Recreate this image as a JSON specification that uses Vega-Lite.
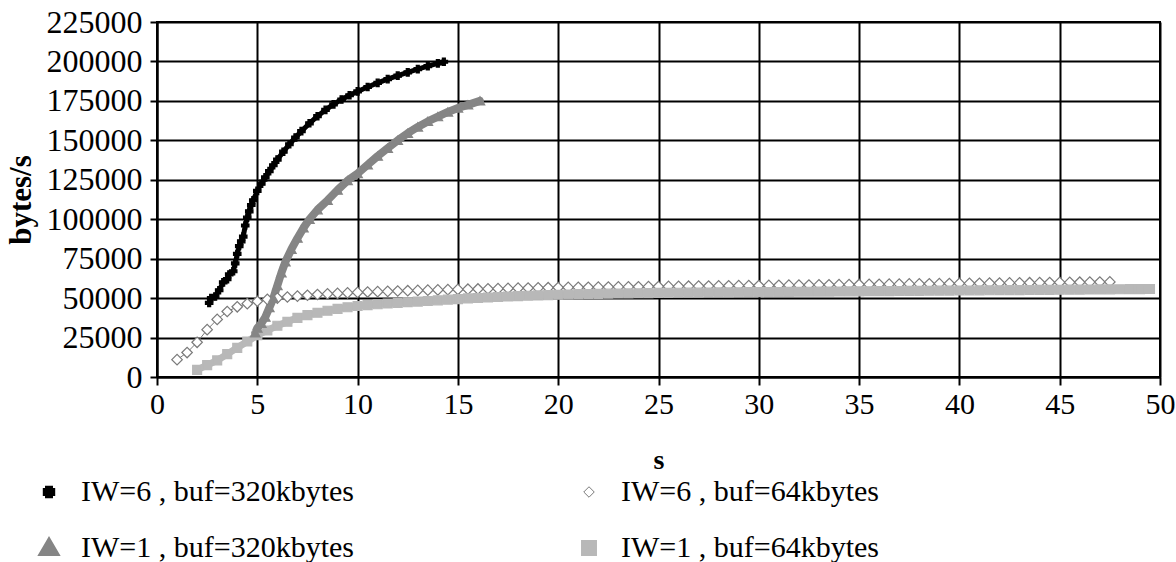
{
"$schema": "https://vega.github.io/schema/vega-lite/v6.json",
"width": 1003, "height": 355,
"autosize": {"type": "none"},
"padding": {"left": 157, "top": 22, "right": 16, "bottom": 185},
"background": "white",
"config": {"font": "Liberation Serif", "view": {"stroke": "black", "strokeWidth": 2},
  "legend": {"orient": "none", "legendX": -123, "legendY": 455, "columns": 2, "columnPadding": 216, "rowPadding": 20, "padding": 0,
    "labelFont": "Liberation Serif", "labelFontSize": 30, "labelColor": "black", "labelOffset": 17, "labelLimit": 0, "symbolSize": 1600, "symbolType": "stroke", "symbolStrokeWidth": 2.5}},
"data": {"values": [
{"series":"IW=6 , buf=64kbytes","s":1.0,"bps":11000},{"series":"IW=6 , buf=64kbytes","s":1.5,"bps":15500},{"series":"IW=6 , buf=64kbytes","s":2.0,"bps":22000},{"series":"IW=6 , buf=64kbytes","s":2.5,"bps":30000},{"series":"IW=6 , buf=64kbytes","s":3.0,"bps":36500},{"series":"IW=6 , buf=64kbytes","s":3.5,"bps":41500},{"series":"IW=6 , buf=64kbytes","s":4.0,"bps":44500},{"series":"IW=6 , buf=64kbytes","s":4.5,"bps":46500},{"series":"IW=6 , buf=64kbytes","s":5.0,"bps":48000},{"series":"IW=6 , buf=64kbytes","s":5.5,"bps":49200},{"series":"IW=6 , buf=64kbytes","s":6.0,"bps":50000},{"series":"IW=6 , buf=64kbytes","s":6.5,"bps":50700},{"series":"IW=6 , buf=64kbytes","s":7.0,"bps":51300},{"series":"IW=6 , buf=64kbytes","s":7.5,"bps":51800},{"series":"IW=6 , buf=64kbytes","s":8.0,"bps":52300},{"series":"IW=6 , buf=64kbytes","s":8.5,"bps":52700},{"series":"IW=6 , buf=64kbytes","s":9.0,"bps":53000},{"series":"IW=6 , buf=64kbytes","s":9.5,"bps":53300},{"series":"IW=6 , buf=64kbytes","s":10.0,"bps":53600},{"series":"IW=6 , buf=64kbytes","s":10.5,"bps":53850},{"series":"IW=6 , buf=64kbytes","s":11.0,"bps":54100},{"series":"IW=6 , buf=64kbytes","s":11.5,"bps":54300},{"series":"IW=6 , buf=64kbytes","s":12.0,"bps":54500},{"series":"IW=6 , buf=64kbytes","s":12.5,"bps":54700},{"series":"IW=6 , buf=64kbytes","s":13.0,"bps":54900},{"series":"IW=6 , buf=64kbytes","s":13.5,"bps":55050},{"series":"IW=6 , buf=64kbytes","s":14.0,"bps":55200},{"series":"IW=6 , buf=64kbytes","s":14.5,"bps":55350},{"series":"IW=6 , buf=64kbytes","s":15.0,"bps":55500},{"series":"IW=6 , buf=64kbytes","s":15.5,"bps":55650},{"series":"IW=6 , buf=64kbytes","s":16.0,"bps":55800},{"series":"IW=6 , buf=64kbytes","s":16.5,"bps":55900},{"series":"IW=6 , buf=64kbytes","s":17.0,"bps":56000},{"series":"IW=6 , buf=64kbytes","s":17.5,"bps":56150},{"series":"IW=6 , buf=64kbytes","s":18.0,"bps":56300},{"series":"IW=6 , buf=64kbytes","s":18.5,"bps":56400},{"series":"IW=6 , buf=64kbytes","s":19.0,"bps":56500},{"series":"IW=6 , buf=64kbytes","s":19.5,"bps":56600},{"series":"IW=6 , buf=64kbytes","s":20.0,"bps":56700},{"series":"IW=6 , buf=64kbytes","s":20.5,"bps":56770},{"series":"IW=6 , buf=64kbytes","s":21.0,"bps":56830},{"series":"IW=6 , buf=64kbytes","s":21.5,"bps":56900},{"series":"IW=6 , buf=64kbytes","s":22.0,"bps":56960},{"series":"IW=6 , buf=64kbytes","s":22.5,"bps":57030},{"series":"IW=6 , buf=64kbytes","s":23.0,"bps":57090},{"series":"IW=6 , buf=64kbytes","s":23.5,"bps":57160},{"series":"IW=6 , buf=64kbytes","s":24.0,"bps":57220},{"series":"IW=6 , buf=64kbytes","s":24.5,"bps":57290},{"series":"IW=6 , buf=64kbytes","s":25.0,"bps":57350},{"series":"IW=6 , buf=64kbytes","s":25.5,"bps":57420},{"series":"IW=6 , buf=64kbytes","s":26.0,"bps":57480},{"series":"IW=6 , buf=64kbytes","s":26.5,"bps":57550},{"series":"IW=6 , buf=64kbytes","s":27.0,"bps":57610},{"series":"IW=6 , buf=64kbytes","s":27.5,"bps":57680},{"series":"IW=6 , buf=64kbytes","s":28.0,"bps":57740},{"series":"IW=6 , buf=64kbytes","s":28.5,"bps":57810},{"series":"IW=6 , buf=64kbytes","s":29.0,"bps":57870},{"series":"IW=6 , buf=64kbytes","s":29.5,"bps":57940},{"series":"IW=6 , buf=64kbytes","s":30.0,"bps":58000},{"series":"IW=6 , buf=64kbytes","s":30.5,"bps":58070},{"series":"IW=6 , buf=64kbytes","s":31.0,"bps":58130},{"series":"IW=6 , buf=64kbytes","s":31.5,"bps":58200},{"series":"IW=6 , buf=64kbytes","s":32.0,"bps":58260},{"series":"IW=6 , buf=64kbytes","s":32.5,"bps":58330},{"series":"IW=6 , buf=64kbytes","s":33.0,"bps":58390},{"series":"IW=6 , buf=64kbytes","s":33.5,"bps":58460},{"series":"IW=6 , buf=64kbytes","s":34.0,"bps":58520},{"series":"IW=6 , buf=64kbytes","s":34.5,"bps":58590},{"series":"IW=6 , buf=64kbytes","s":35.0,"bps":58650},{"series":"IW=6 , buf=64kbytes","s":35.5,"bps":58720},{"series":"IW=6 , buf=64kbytes","s":36.0,"bps":58780},{"series":"IW=6 , buf=64kbytes","s":36.5,"bps":58850},{"series":"IW=6 , buf=64kbytes","s":37.0,"bps":58910},{"series":"IW=6 , buf=64kbytes","s":37.5,"bps":58980},{"series":"IW=6 , buf=64kbytes","s":38.0,"bps":59040},{"series":"IW=6 , buf=64kbytes","s":38.5,"bps":59110},{"series":"IW=6 , buf=64kbytes","s":39.0,"bps":59170},{"series":"IW=6 , buf=64kbytes","s":39.5,"bps":59240},{"series":"IW=6 , buf=64kbytes","s":40.0,"bps":59300},{"series":"IW=6 , buf=64kbytes","s":40.5,"bps":59370},{"series":"IW=6 , buf=64kbytes","s":41.0,"bps":59430},{"series":"IW=6 , buf=64kbytes","s":41.5,"bps":59500},{"series":"IW=6 , buf=64kbytes","s":42.0,"bps":59560},{"series":"IW=6 , buf=64kbytes","s":42.5,"bps":59630},{"series":"IW=6 , buf=64kbytes","s":43.0,"bps":59690},{"series":"IW=6 , buf=64kbytes","s":43.5,"bps":59760},{"series":"IW=6 , buf=64kbytes","s":44.0,"bps":59820},{"series":"IW=6 , buf=64kbytes","s":44.5,"bps":59890},{"series":"IW=6 , buf=64kbytes","s":45.0,"bps":59950},{"series":"IW=6 , buf=64kbytes","s":45.5,"bps":60020},{"series":"IW=6 , buf=64kbytes","s":46.0,"bps":60080},{"series":"IW=6 , buf=64kbytes","s":46.5,"bps":60150},{"series":"IW=6 , buf=64kbytes","s":47.0,"bps":60210},{"series":"IW=6 , buf=64kbytes","s":47.5,"bps":60280},
{"series":"IW=1 , buf=64kbytes","s":2.0,"bps":4500},{"series":"IW=1 , buf=64kbytes","s":2.5,"bps":7500},{"series":"IW=1 , buf=64kbytes","s":3.0,"bps":10500},{"series":"IW=1 , buf=64kbytes","s":3.5,"bps":14500},{"series":"IW=1 , buf=64kbytes","s":4.0,"bps":18500},{"series":"IW=1 , buf=64kbytes","s":4.5,"bps":22500},{"series":"IW=1 , buf=64kbytes","s":5.0,"bps":26500},{"series":"IW=1 , buf=64kbytes","s":5.5,"bps":29500},{"series":"IW=1 , buf=64kbytes","s":6.0,"bps":32500},{"series":"IW=1 , buf=64kbytes","s":6.5,"bps":35000},{"series":"IW=1 , buf=64kbytes","s":7.0,"bps":37500},{"series":"IW=1 , buf=64kbytes","s":7.5,"bps":39200},{"series":"IW=1 , buf=64kbytes","s":8.0,"bps":40700},{"series":"IW=1 , buf=64kbytes","s":8.5,"bps":42000},{"series":"IW=1 , buf=64kbytes","s":9.0,"bps":43200},{"series":"IW=1 , buf=64kbytes","s":9.5,"bps":44200},{"series":"IW=1 , buf=64kbytes","s":10.0,"bps":45000},{"series":"IW=1 , buf=64kbytes","s":10.5,"bps":45600},{"series":"IW=1 , buf=64kbytes","s":11.0,"bps":46100},{"series":"IW=1 , buf=64kbytes","s":11.5,"bps":46600},{"series":"IW=1 , buf=64kbytes","s":12.0,"bps":47000},{"series":"IW=1 , buf=64kbytes","s":12.5,"bps":47400},{"series":"IW=1 , buf=64kbytes","s":13.0,"bps":47800},{"series":"IW=1 , buf=64kbytes","s":13.5,"bps":48200},{"series":"IW=1 , buf=64kbytes","s":14.0,"bps":48600},{"series":"IW=1 , buf=64kbytes","s":14.5,"bps":49000},{"series":"IW=1 , buf=64kbytes","s":15.0,"bps":49400},{"series":"IW=1 , buf=64kbytes","s":15.5,"bps":49800},{"series":"IW=1 , buf=64kbytes","s":16.0,"bps":50100},{"series":"IW=1 , buf=64kbytes","s":16.5,"bps":50400},{"series":"IW=1 , buf=64kbytes","s":17.0,"bps":50700},{"series":"IW=1 , buf=64kbytes","s":17.5,"bps":51000},{"series":"IW=1 , buf=64kbytes","s":18.0,"bps":51300},{"series":"IW=1 , buf=64kbytes","s":18.5,"bps":51500},{"series":"IW=1 , buf=64kbytes","s":19.0,"bps":51700},{"series":"IW=1 , buf=64kbytes","s":19.5,"bps":51900},{"series":"IW=1 , buf=64kbytes","s":20.0,"bps":52100},{"series":"IW=1 , buf=64kbytes","s":20.5,"bps":52300},{"series":"IW=1 , buf=64kbytes","s":21.0,"bps":52500},{"series":"IW=1 , buf=64kbytes","s":21.5,"bps":52600},{"series":"IW=1 , buf=64kbytes","s":22.0,"bps":52700},{"series":"IW=1 , buf=64kbytes","s":22.5,"bps":52800},{"series":"IW=1 , buf=64kbytes","s":23.0,"bps":52900},{"series":"IW=1 , buf=64kbytes","s":23.5,"bps":53000},{"series":"IW=1 , buf=64kbytes","s":24.0,"bps":53100},{"series":"IW=1 , buf=64kbytes","s":24.5,"bps":53200},{"series":"IW=1 , buf=64kbytes","s":25.0,"bps":53300},{"series":"IW=1 , buf=64kbytes","s":25.5,"bps":53350},{"series":"IW=1 , buf=64kbytes","s":26.0,"bps":53400},{"series":"IW=1 , buf=64kbytes","s":26.5,"bps":53450},{"series":"IW=1 , buf=64kbytes","s":27.0,"bps":53500},{"series":"IW=1 , buf=64kbytes","s":27.5,"bps":53550},{"series":"IW=1 , buf=64kbytes","s":28.0,"bps":53600},{"series":"IW=1 , buf=64kbytes","s":28.5,"bps":53650},{"series":"IW=1 , buf=64kbytes","s":29.0,"bps":53700},{"series":"IW=1 , buf=64kbytes","s":29.5,"bps":53750},{"series":"IW=1 , buf=64kbytes","s":30.0,"bps":53800},{"series":"IW=1 , buf=64kbytes","s":30.5,"bps":53850},{"series":"IW=1 , buf=64kbytes","s":31.0,"bps":53900},{"series":"IW=1 , buf=64kbytes","s":31.5,"bps":53950},{"series":"IW=1 , buf=64kbytes","s":32.0,"bps":54000},{"series":"IW=1 , buf=64kbytes","s":32.5,"bps":54050},{"series":"IW=1 , buf=64kbytes","s":33.0,"bps":54100},{"series":"IW=1 , buf=64kbytes","s":33.5,"bps":54150},{"series":"IW=1 , buf=64kbytes","s":34.0,"bps":54200},{"series":"IW=1 , buf=64kbytes","s":34.5,"bps":54250},{"series":"IW=1 , buf=64kbytes","s":35.0,"bps":54300},{"series":"IW=1 , buf=64kbytes","s":35.5,"bps":54350},{"series":"IW=1 , buf=64kbytes","s":36.0,"bps":54400},{"series":"IW=1 , buf=64kbytes","s":36.5,"bps":54450},{"series":"IW=1 , buf=64kbytes","s":37.0,"bps":54500},{"series":"IW=1 , buf=64kbytes","s":37.5,"bps":54550},{"series":"IW=1 , buf=64kbytes","s":38.0,"bps":54600},{"series":"IW=1 , buf=64kbytes","s":38.5,"bps":54650},{"series":"IW=1 , buf=64kbytes","s":39.0,"bps":54700},{"series":"IW=1 , buf=64kbytes","s":39.5,"bps":54750},{"series":"IW=1 , buf=64kbytes","s":40.0,"bps":54800},{"series":"IW=1 , buf=64kbytes","s":40.5,"bps":54850},{"series":"IW=1 , buf=64kbytes","s":41.0,"bps":54900},{"series":"IW=1 , buf=64kbytes","s":41.5,"bps":54950},{"series":"IW=1 , buf=64kbytes","s":42.0,"bps":55000},{"series":"IW=1 , buf=64kbytes","s":42.5,"bps":55050},{"series":"IW=1 , buf=64kbytes","s":43.0,"bps":55100},{"series":"IW=1 , buf=64kbytes","s":43.5,"bps":55150},{"series":"IW=1 , buf=64kbytes","s":44.0,"bps":55200},{"series":"IW=1 , buf=64kbytes","s":44.5,"bps":55250},{"series":"IW=1 , buf=64kbytes","s":45.0,"bps":55300},{"series":"IW=1 , buf=64kbytes","s":45.5,"bps":55350},{"series":"IW=1 , buf=64kbytes","s":46.0,"bps":55400},{"series":"IW=1 , buf=64kbytes","s":46.5,"bps":55450},{"series":"IW=1 , buf=64kbytes","s":47.0,"bps":55500},{"series":"IW=1 , buf=64kbytes","s":47.5,"bps":55550},{"series":"IW=1 , buf=64kbytes","s":48.0,"bps":55600},{"series":"IW=1 , buf=64kbytes","s":48.5,"bps":55650},{"series":"IW=1 , buf=64kbytes","s":49.0,"bps":55700},{"series":"IW=1 , buf=64kbytes","s":49.5,"bps":55750},
{"series":"IW=6 , buf=320kbytes","s":2.6,"bps":47000},{"series":"IW=6 , buf=320kbytes","s":2.7,"bps":50000},{"series":"IW=6 , buf=320kbytes","s":2.9,"bps":51000},{"series":"IW=6 , buf=320kbytes","s":3.1,"bps":55000},{"series":"IW=6 , buf=320kbytes","s":3.3,"bps":60000},{"series":"IW=6 , buf=320kbytes","s":3.5,"bps":62000},{"series":"IW=6 , buf=320kbytes","s":3.6,"bps":65000},{"series":"IW=6 , buf=320kbytes","s":3.8,"bps":67000},{"series":"IW=6 , buf=320kbytes","s":3.9,"bps":72000},{"series":"IW=6 , buf=320kbytes","s":4.0,"bps":78000},{"series":"IW=6 , buf=320kbytes","s":4.1,"bps":83000},{"series":"IW=6 , buf=320kbytes","s":4.2,"bps":86000},{"series":"IW=6 , buf=320kbytes","s":4.3,"bps":89000},{"series":"IW=6 , buf=320kbytes","s":4.4,"bps":96000},{"series":"IW=6 , buf=320kbytes","s":4.5,"bps":101000},{"series":"IW=6 , buf=320kbytes","s":4.6,"bps":105000},{"series":"IW=6 , buf=320kbytes","s":4.7,"bps":109000},{"series":"IW=6 , buf=320kbytes","s":4.8,"bps":112000},{"series":"IW=6 , buf=320kbytes","s":5.0,"bps":118000},{"series":"IW=6 , buf=320kbytes","s":5.2,"bps":122500},{"series":"IW=6 , buf=320kbytes","s":5.4,"bps":126500},{"series":"IW=6 , buf=320kbytes","s":5.6,"bps":130500},{"series":"IW=6 , buf=320kbytes","s":5.8,"bps":134200},{"series":"IW=6 , buf=320kbytes","s":6.0,"bps":137800},{"series":"IW=6 , buf=320kbytes","s":6.3,"bps":142800},{"series":"IW=6 , buf=320kbytes","s":6.6,"bps":147500},{"series":"IW=6 , buf=320kbytes","s":6.9,"bps":151800},{"series":"IW=6 , buf=320kbytes","s":7.2,"bps":155800},{"series":"IW=6 , buf=320kbytes","s":7.6,"bps":160800},{"series":"IW=6 , buf=320kbytes","s":8.0,"bps":165300},{"series":"IW=6 , buf=320kbytes","s":8.4,"bps":169300},{"series":"IW=6 , buf=320kbytes","s":8.8,"bps":172800},{"series":"IW=6 , buf=320kbytes","s":9.2,"bps":175900},{"series":"IW=6 , buf=320kbytes","s":9.6,"bps":178600},{"series":"IW=6 , buf=320kbytes","s":10.0,"bps":181000},{"series":"IW=6 , buf=320kbytes","s":10.5,"bps":183800},{"series":"IW=6 , buf=320kbytes","s":11.0,"bps":186400},{"series":"IW=6 , buf=320kbytes","s":11.5,"bps":188800},{"series":"IW=6 , buf=320kbytes","s":12.0,"bps":191000},{"series":"IW=6 , buf=320kbytes","s":12.5,"bps":193100},{"series":"IW=6 , buf=320kbytes","s":13.0,"bps":195100},{"series":"IW=6 , buf=320kbytes","s":13.5,"bps":197000},{"series":"IW=6 , buf=320kbytes","s":14.0,"bps":198800},{"series":"IW=6 , buf=320kbytes","s":14.3,"bps":199800},
{"series":"IW=1 , buf=320kbytes","s":4.9,"bps":28000},{"series":"IW=1 , buf=320kbytes","s":5.0,"bps":31000},{"series":"IW=1 , buf=320kbytes","s":5.2,"bps":34000},{"series":"IW=1 , buf=320kbytes","s":5.4,"bps":38000},{"series":"IW=1 , buf=320kbytes","s":5.6,"bps":44000},{"series":"IW=1 , buf=320kbytes","s":5.8,"bps":50000},{"series":"IW=1 , buf=320kbytes","s":6.0,"bps":58000},{"series":"IW=1 , buf=320kbytes","s":6.2,"bps":66000},{"series":"IW=1 , buf=320kbytes","s":6.4,"bps":73000},{"series":"IW=1 , buf=320kbytes","s":6.7,"bps":81000},{"series":"IW=1 , buf=320kbytes","s":7.0,"bps":88000},{"series":"IW=1 , buf=320kbytes","s":7.3,"bps":94500},{"series":"IW=1 , buf=320kbytes","s":7.6,"bps":100000},{"series":"IW=1 , buf=320kbytes","s":8.0,"bps":106000},{"series":"IW=1 , buf=320kbytes","s":8.5,"bps":112000},{"series":"IW=1 , buf=320kbytes","s":9.0,"bps":118500},{"series":"IW=1 , buf=320kbytes","s":9.5,"bps":124500},{"series":"IW=1 , buf=320kbytes","s":10.0,"bps":129000},{"series":"IW=1 , buf=320kbytes","s":10.5,"bps":134500},{"series":"IW=1 , buf=320kbytes","s":11.0,"bps":140000},{"series":"IW=1 , buf=320kbytes","s":11.5,"bps":145000},{"series":"IW=1 , buf=320kbytes","s":12.0,"bps":150000},{"series":"IW=1 , buf=320kbytes","s":12.5,"bps":154500},{"series":"IW=1 , buf=320kbytes","s":13.0,"bps":158500},{"series":"IW=1 , buf=320kbytes","s":13.5,"bps":162000},{"series":"IW=1 , buf=320kbytes","s":14.0,"bps":165000},{"series":"IW=1 , buf=320kbytes","s":14.5,"bps":168000},{"series":"IW=1 , buf=320kbytes","s":15.0,"bps":170500},{"series":"IW=1 , buf=320kbytes","s":15.5,"bps":172500},{"series":"IW=1 , buf=320kbytes","s":16.1,"bps":175000}
]},
"encoding": {
  "x": {"field": "s", "type": "quantitative",
    "scale": {"domain": [0, 50], "nice": false},
    "axis": {"values": [0,5,10,15,20,25,30,35,40,45,50], "title": "s", "grid": true, "gridColor": "black", "gridWidth": 2, "gridOpacity": 1,
      "domainColor": "black", "domainWidth": 2, "tickColor": "black", "tickWidth": 2, "tickSize": 8,
      "labelFont": "Liberation Serif", "labelFontSize": 30, "labelColor": "black", "labelPadding": 4, "labelFlush": false,
      "titleFont": "Liberation Serif", "titleFontSize": 28, "titleFontWeight": "bold", "titleColor": "black", "titlePadding": 27}},
  "y": {"field": "bps", "type": "quantitative",
    "scale": {"domain": [0, 225000], "nice": false},
    "axis": {"values": [0,25000,50000,75000,100000,125000,150000,175000,200000,225000], "format": "d", "title": "bytes/s", "grid": true, "gridColor": "black", "gridWidth": 2, "gridOpacity": 1,
      "domainColor": "black", "domainWidth": 2, "tickColor": "black", "tickWidth": 2, "tickSize": 7,
      "labelFont": "Liberation Serif", "labelFontSize": 32, "labelColor": "black", "labelPadding": 8,
      "titleFont": "Liberation Serif", "titleFontSize": 31, "titleFontWeight": "bold", "titleColor": "black", "titlePadding": 9}}
},
"layer": [
  {"mark": {"type": "line", "strokeCap": "round", "strokeJoin": "round"},
   "encoding": {
     "stroke": {"field": "series", "type": "nominal",
       "scale": {"domain": ["IW=6 , buf=320kbytes", "IW=1 , buf=320kbytes", "IW=6 , buf=64kbytes", "IW=1 , buf=64kbytes"], "range": ["#000000", "#858585", "#7a7a7a", "#b8b8b8"]},
       "legend": {"title": null, "symbolType": "stroke", "symbolStrokeWidth": 2.5}},
     "strokeWidth": {"field": "series", "type": "nominal",
       "scale": {"type": "ordinal", "domain": ["IW=6 , buf=320kbytes", "IW=1 , buf=320kbytes", "IW=6 , buf=64kbytes", "IW=1 , buf=64kbytes"], "range": [5, 8, 1, 7]},
       "legend": null}
   }},
  {"mark": {"type": "point", "opacity": 1, "strokeWidth": 1.2},
   "encoding": {
     "color": {"field": "series", "type": "nominal",
       "scale": {"domain": ["IW=6 , buf=320kbytes", "IW=1 , buf=320kbytes", "IW=6 , buf=64kbytes", "IW=1 , buf=64kbytes"], "range": ["#000000", "#858585", "#7a7a7a", "#b8b8b8"]},
       "legend": null},
     "fill": {"field": "series", "type": "nominal",
       "scale": {"domain": ["IW=6 , buf=320kbytes", "IW=1 , buf=320kbytes", "IW=6 , buf=64kbytes", "IW=1 , buf=64kbytes"], "range": ["#000000", "#858585", "#ffffff", "#b8b8b8"]},
       "legend": null},
     "shape": {"field": "series", "type": "nominal",
       "scale": {"domain": ["IW=6 , buf=320kbytes", "IW=1 , buf=320kbytes", "IW=6 , buf=64kbytes", "IW=1 , buf=64kbytes"], "range": ["cross", "triangle-up", "diamond", "square"]},
       "legend": null},
     "size": {"field": "series", "type": "nominal",
       "scale": {"type": "ordinal", "domain": ["IW=6 , buf=320kbytes", "IW=1 , buf=320kbytes", "IW=6 , buf=64kbytes", "IW=1 , buf=64kbytes"], "range": [55, 90, 110, 80]},
       "legend": null}
   }}
]
}
